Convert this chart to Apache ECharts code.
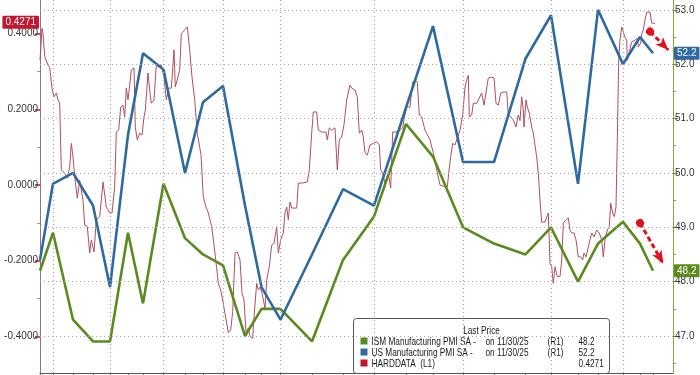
<!DOCTYPE html>
<html><head><meta charset="utf-8">
<script src="https://cdn.jsdelivr.net/npm/echarts@6/dist/echarts.min.js"></script>
<style>html,body{margin:0;padding:0;background:#fff}#c{width:700px;height:375px}</style>
</head><body><div id="c"></div>
<script>
// Monthly PMI observations (Aug 2023 .. Nov 2025) and their position on the session axis
const months = ['2023-08','2023-09','2023-10','2023-11','2023-12','2024-01','2024-02','2024-03','2024-04','2024-05','2024-06','2024-07','2024-08','2024-09','2024-10','2024-11','2024-12','2025-01','2025-02','2025-03','2025-04','2025-05','2025-06','2025-07','2025-08','2025-09','2025-10','2025-11'];
const monthPos = [0,13,33,53,70,88,103,123.5,145,163,183,205,221.5,240.5,272,303,334,366,393,423,454,485.5,511,538,558,583,600,613];
const ismPmi = [48.2,48.9,47.3,46.9,46.9,48.9,47.6,49.8,48.8,48.5,48.3,47.0,47.5,47.5,46.9,48.4,49.2,50.9,50.3,49.0,48.7,48.5,49.0,48.0,48.7,49.1,48.7,48.2];
const usPmi = [48.4,49.8,50.0,49.4,47.9,50.7,52.2,51.9,50.0,51.3,51.6,49.4,47.9,47.3,48.5,49.7,49.4,51.2,52.7,50.2,50.2,52.1,52.9,49.8,53.0,52.0,52.5,52.2];
const quarterMonths = ['2023-09','2023-12','2024-03','2024-06','2024-09','2024-12','2025-03','2025-06','2025-09'];

// HARDDATA daily series (session position, value)
const hdPos = [0,2,3,4.7,8,9.7,12,14,16.3,18,19.7,21.3,24.7,27.3,29.7,31.3,33,34.7,37.3,39.7,43,44.7,47.3,49.7,51.3,54,56.3,59.7,63,64.7,66.3,69.7,72,74.7,76.3,78.7,80.7,83,84.7,86.3,88,89.7,91.3,94,95.3,97.3,99.7,102,104,105.3,108,110,111.3,114,116.3,118.7,121.3,124,126.3,128.7,131.3,134,135.3,137.3,139.7,141.3,144.7,147.3,149.7,152,154.7,157.3,159.7,161,163.3,166,168.3,171.7,175,178.3,180.7,182.7,185,188.3,190.7,192.7,195,197.3,200,202,204,206,208.3,210,212.7,214,216.7,218.3,220,222,225,226.7,229.3,231.7,234,236.7,238.3,240.7,243.3,245,246.7,248.3,250,251.7,256.7,258.3,261.7,267.3,269.3,271.7,273.3,276.7,278.3,281.7,286,287.3,289.3,291.7,295,297.3,299.3,301.7,304,306.7,310,311.7,315,317.3,319.3,321.7,323.3,325,327.3,330,333.3,336.7,339.3,340.7,342.7,345,348.3,350.7,352.7,356,360,362.7,364.3,366.7,370,372.7,375,377.3,379.3,381.7,385,390,393.3,396.7,400,405,407.3,409.3,410.7,412.7,415,417.3,420,422.7,425,426.7,428.3,429.3,431.7,433.3,436.7,439.3,441.7,444,446,448.3,451.7,454,456,458.3,460.7,464,466.7,468.3,470.7,473.3,476,478.3,480,481.7,483.3,484,486,487.3,489.3,491.7,493.3,495,496.7,498.3,500,501.7,503.3,505,506.7,508.3,510,511.7,513.3,515,517.3,520,521.7,523.3,526,528.3,530,531.7,534,536,538.3,540.7,542.7,544,546,548.3,550,551.7,554,556.7,559.3,561.7,563.3,565,567.3,569.3,570.7,572.7,574.3,576,577.3,578.7,580,581.7,583.3,585,586.7,587.3,589.3,591.7,595,597.3,598.3,600.7,601.7,603.3,605,606.7,608.3,610,611.7,615];
const hdVal = [0.33,0.414,0.40,0.34,0.317,0.31,0.256,0.233,0.243,0.225,0.216,0.04,0.031,0.018,0.048,0.11,0.074,0.022,-0.035,0.013,-0.04,-0.106,-0.11,-0.18,-0.145,-0.177,-0.092,-0.084,0.008,0.013,-0.058,-0.074,-0.074,-0.005,0.14,0.145,0.206,0.211,0.18,0.256,0.225,0.264,0.304,0.309,0.153,0.119,0.137,0.132,0.18,0.198,0.296,0.243,0.216,0.225,0.317,0.312,0.317,0.285,0.225,0.256,0.256,0.357,0.259,0.264,0.304,0.40,0.41,0.418,0.357,0.285,0.225,0.137,0.10,0.08,-0.032,-0.058,-0.074,-0.11,-0.18,-0.26,-0.277,-0.304,-0.34,-0.39,-0.383,-0.335,-0.18,-0.177,-0.198,-0.286,-0.304,-0.39,-0.378,-0.40,-0.405,-0.348,-0.26,-0.277,-0.27,-0.286,-0.326,-0.251,-0.216,-0.159,-0.154,-0.11,-0.18,-0.145,-0.127,-0.074,-0.058,-0.092,-0.045,-0.061,-0.061,0.005,0.005,0.008,0.04,0.137,0.193,0.193,0.145,0.14,0.14,0.119,0.151,0.145,0.151,0.04,0.119,0.127,0.159,0.225,0.264,0.256,0.251,0.233,0.137,0.145,0.127,0.085,0.079,0.106,0.11,0.114,0.106,0.04,0.031,0.005,0.031,-0.008,0.14,0.14,0.145,0.151,0.177,0.206,0.206,0.272,0.277,0.272,0.185,0.18,0.145,0.119,0.085,0.04,0.0,-0.005,-0.005,0.045,0.074,0.11,0.106,0.124,0.145,0.185,0.259,0.277,0.29,0.18,0.185,0.216,0.216,0.23,0.243,0.211,0.216,0.283,0.285,0.283,0.216,0.211,0.243,0.246,0.246,0.185,0.18,0.172,0.153,0.185,0.17,0.233,0.198,0.153,0.225,0.206,0.19,0.153,0.137,0.14,0.074,0.031,-0.04,-0.098,-0.10,-0.098,-0.10,-0.074,-0.207,-0.216,-0.26,-0.216,-0.242,-0.242,-0.198,-0.10,-0.092,-0.087,-0.119,-0.127,-0.127,-0.145,-0.19,-0.19,-0.198,-0.18,-0.19,-0.164,-0.145,-0.127,-0.137,-0.119,-0.127,-0.145,-0.19,-0.145,-0.119,-0.11,-0.048,-0.074,-0.084,-0.058,0.119,0.33,0.383,0.418,0.418,0.39,0.383,0.33,0.325,0.378,0.383,0.388,0.365,0.375,0.40,0.41,0.436,0.457,0.462,0.457,0.428,0.4271];

const leftTicks = [-0.4,-0.2,0,0.2,0.4];
const leftMinor = [-0.3,-0.1,0.1,0.3];
const rightTicks = [47,48,49,50,51,52,53];
const rightMinor = [46.5,47.5,48.5,49.5,50.5,51.5,52.5];
const lastIsm = 48.2, lastUs = 52.2, lastHd = 0.4271;
const arrowUs = [[610,52.6],[628.3,52.26]];
const arrowIsm = [[600,49.08],[623.3,48.33]];

const FONT = "'Liberation Sans','DejaVu Sans',sans-serif";
const C_ISM = '#5b8a1e', C_US = '#2e6aa1', C_HD = '#b04e60', C_TAG = '#c4162e';

const posOf = m => monthPos[months.indexOf(m)];
const zip = (a, b) => a.map((x, i) => [x, b[i]]);
const NOLINE = {color: 'rgba(0,0,0,0)', width: 0};

const tagLabel = (txt, bg, pos) => ({
  show: true, position: pos, formatter: txt, distance: 1,
  backgroundColor: bg, color: '#fff', fontFamily: FONT, fontSize: 10,
  padding: [2, 3, 1, 3], borderRadius: 1
});

const T = (x, y, text, align) => ({
  type: 'text', x: x, y: y, scaleX: 0.75,
  style: {text: text, fill: '#1a1a1a', font: '11px ' + FONT, textAlign: align || 'left', textVerticalAlign: 'middle'}
});

const chart = echarts.init(document.getElementById('c'), null, {renderer: 'canvas'});
chart.setOption({
  animation: false,
  grid: {left: 40, right: 27, top: 0, bottom: 2},
  xAxis: {
    type: 'value', min: 0, max: 633,
    axisLine: {show: true, onZero: false, lineStyle: {color: '#555'}},
    axisTick: {show: true, customValues: monthPos, length: 3, lineStyle: {color: '#666'}},
    axisLabel: {show: false}, splitLine: {show: false}
  },
  yAxis: [
    {type: 'value', position: 'left', min: -0.497, max: 0.489,
     axisLine: {show: true, lineStyle: {color: '#8f7480'}},
     axisTick: {show: true, customValues: leftTicks, length: 5, lineStyle: {color: '#c4162e', width: 1.5}},
     axisLabel: {show: true, customValues: leftTicks, formatter: v => v.toFixed(4), color: '#333', fontFamily: FONT, fontSize: 10, margin: 2},
     splitLine: {show: false}},
    {type: 'value', position: 'right', min: 46.32, max: 53.18,
     axisLine: {show: true, lineStyle: {color: '#8aa33c'}},
     axisTick: {show: true, customValues: rightTicks, length: 5, lineStyle: {color: '#6f8f2a'}},
     axisLabel: {show: true, customValues: rightTicks, formatter: v => v.toFixed(1), color: '#333', fontFamily: FONT, fontSize: 10, margin: 2},
     splitLine: {show: false}},
    {type: 'value', position: 'left', min: -0.497, max: 0.489,
     axisLine: {show: false},
     axisTick: {show: true, customValues: leftMinor, length: 3, lineStyle: {color: '#999'}},
     axisLabel: {show: false}, splitLine: {show: false}},
    {type: 'value', position: 'right', min: 46.32, max: 53.18,
     axisLine: {show: false},
     axisTick: {show: true, customValues: rightMinor, length: 3, lineStyle: {color: '#8aa33c'}},
     axisLabel: {show: false}, splitLine: {show: false}}
  ],
  series: [
    {name: 'grid', type: 'line', yAxisIndex: 1, data: zip(monthPos, usPmi), z: 0, silent: true,
     showSymbol: false, lineStyle: NOLINE,
     markLine: {silent: true, symbol: ['none','none'], label: {show: false},
       lineStyle: {color: '#a8a8a8', type: [1, 3], width: 1.2},
       data: rightTicks.map(v => ({yAxis: v})).concat(quarterMonths.map(m => ({xAxis: posOf(m)})))}},
    {name: 'HARDDATA (L1)', type: 'line', yAxisIndex: 0, data: zip(hdPos, hdVal), z: 2,
     showSymbol: false, lineStyle: {color: C_HD, width: 1}, itemStyle: {color: C_HD},
     markLine: {silent: true, symbol: ['none','none'], lineStyle: NOLINE,
       label: tagLabel(lastHd.toFixed(4), C_TAG, 'start'), data: [{yAxis: lastHd}]}},
    {name: 'ISM Manufacturing PMI SA', type: 'line', yAxisIndex: 1, data: zip(monthPos, ismPmi), z: 3,
     showSymbol: false, lineStyle: {color: C_ISM, width: 2.6}, itemStyle: {color: C_ISM},
     markLine: {silent: true, symbol: ['none','none'], lineStyle: NOLINE,
       label: tagLabel(lastIsm.toFixed(1), C_ISM, 'end'), data: [{yAxis: lastIsm}]}},
    {name: 'US Manufacturing PMI SA', type: 'line', yAxisIndex: 1, data: zip(monthPos, usPmi), z: 3,
     showSymbol: false, lineStyle: {color: C_US, width: 2.6}, itemStyle: {color: C_US},
     markLine: {silent: true, symbol: ['none','none'], lineStyle: NOLINE,
       label: tagLabel(lastUs.toFixed(1), C_US, 'end'), data: [{yAxis: lastUs}]}},
    {name: 'arrows', type: 'line', yAxisIndex: 1, data: [], z: 4, silent: true,
     markLine: {silent: true, symbol: ['circle','arrow'], symbolSize: [8, 13], label: {show: false},
       lineStyle: {color: '#e3101c', type: [5, 3], width: 3, opacity: 1},
       data: [
         [{coord: arrowUs[0]}, {coord: arrowUs[1]}],
         [{coord: arrowIsm[0]}, {coord: arrowIsm[1]}]
       ]}}
  ],
  graphic: [{
    type: 'group', left: 353, top: 318, z: 10,
    children: [
      {type: 'rect', shape: {x: 0, y: 0, width: 256, height: 55, r: 3}, style: {fill: '#fff', stroke: '#555', lineWidth: 1}},
      T(128, 12, 'Last Price', 'center'),
      {type: 'rect', shape: {x: 7, y: 19, width: 7, height: 7}, style: {fill: C_ISM}},
      T(18, 23, 'ISM Manufacturing PMI SA -'),
      T(132, 23, 'on 11/30/25'),
      T(194, 23, '(R1)'),
      T(225, 23, lastIsm.toFixed(1)),
      {type: 'rect', shape: {x: 7, y: 30, width: 7, height: 7}, style: {fill: C_US}},
      T(18, 34, 'US Manufacturing PMI SA -'),
      T(132, 34, 'on 11/30/25'),
      T(194, 34, '(R1)'),
      T(225, 34, lastUs.toFixed(1)),
      {type: 'rect', shape: {x: 7, y: 41, width: 7, height: 7}, style: {fill: C_TAG}},
      T(18, 45, 'HARDDATA  (L1)'),
      T(225, 45, lastHd.toFixed(4))
    ]
  }]
});
</script></body></html>
